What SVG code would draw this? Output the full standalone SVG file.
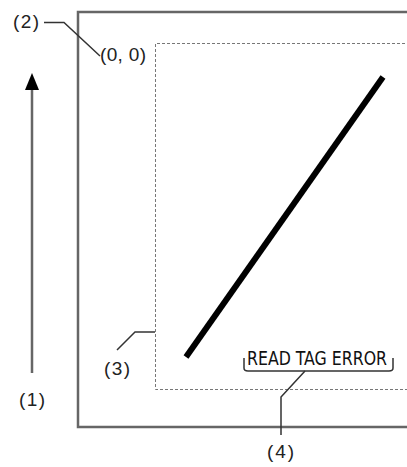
<svg xmlns="http://www.w3.org/2000/svg" width="407" height="467" viewBox="0 0 407 467">
<style>
.lbl{font-family:"Liberation Sans",Arial,sans-serif;font-size:19px;fill:#222;letter-spacing:1px}
.lead{fill:none;stroke:#333;stroke-width:1.5}
.cond{font-family:"DejaVu Sans Condensed","DejaVu Sans",sans-serif;font-size:19px;fill:#111}
</style>
<rect width="407" height="467" fill="#fff"/>
<g id="frame">
<path d="M410 12 H78 V427 H410" fill="none" stroke="#666" stroke-width="2.5"/>
</g>
<g id="area">
<path d="M410 43.5 H155.5 V389.5 H410" fill="none" stroke="#777" stroke-width="1" stroke-dasharray="3 2"/>
</g>
<g id="stroke-line">
<line x1="186" y1="357" x2="383" y2="77" stroke="#000" stroke-width="6"/>
</g>
<g id="origin">
<text class="lbl" x="100" y="61" textLength="47" lengthAdjust="spacing">(0, 0)</text>
</g>
<g id="error-text">
<text class="cond" x="247" y="365" textLength="140" lengthAdjust="spacingAndGlyphs">READ TAG ERROR</text>
</g>
<g id="connectors">
<line x1="32" y1="373" x2="32" y2="88" stroke="#666" stroke-width="2.5"/>
<polygon points="32,73 25,90 39,90" fill="#000"/>
<path class="lead" d="M44 22.5 H64 L100 56"/>
<path class="lead" d="M155 332 H135 L117 350"/>
<path class="lead" d="M244 358 V368 Q244 371 248 371 H389 Q393 371 393 368 V358"/>
<path class="lead" d="M305 371 L281 397 V435"/>
</g>
<g id="labels">
<text class="lbl" x="13" y="28" textLength="27" lengthAdjust="spacing">(2)</text>
<text class="lbl" x="19" y="406" textLength="27" lengthAdjust="spacing">(1)</text>
<text class="lbl" x="104" y="375" textLength="27" lengthAdjust="spacing">(3)</text>
<text class="lbl" x="267" y="458" textLength="28" lengthAdjust="spacing">(4)</text>
</g>
</svg>
